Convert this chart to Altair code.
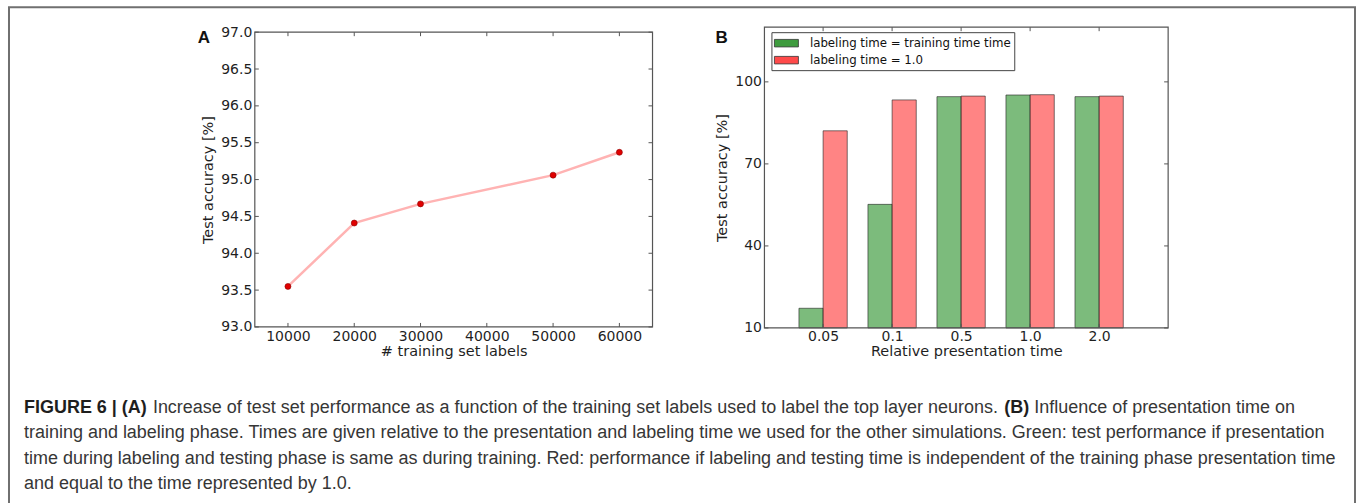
import json
import altair as alt
import pandas as pd

# ---------------- data ----------------
# Panel A
train_labels = [10000, 20000, 30000, 50000, 60000]
test_acc = [93.55, 94.41, 94.67, 95.06, 95.37]
a_x_ticks = [10000, 20000, 30000, 40000, 50000, 60000]
a_y_ticks = [93.0, 93.5, 94.0, 94.5, 95.0, 95.5, 96.0, 96.5, 97.0]

# Panel B
pres_times = ["0.05", "0.1", "0.5", "1.0", "2.0"]
acc_same = [17.2, 55.2, 94.6, 95.2, 94.6]
acc_fixed = [82.1, 93.4, 94.8, 95.3, 94.8]
series_names = ["labeling time = training time time", "labeling time = 1.0"]
b_y_ticks = [10, 40, 70, 100]

# Caption
caption_lines = [
    [("FIGURE 6 | (A)", True),
     ("Increase of test set performance as a function of the training set labels used to label the top layer neurons.", False),
     ("(B)", True),
     ("Influence of presentation time on", False)],
    [("training and labeling phase. Times are given relative to the presentation and labeling time we used for the other simulations. Green: test performance if presentation", False)],
    [("time during labeling and testing phase is same as during training. Red: performance if labeling and testing time is independent of the training phase presentation time", False)],
    [("and equal to the time represented by 1.0.", False)],
]

# ---------------- layout / style ----------------
WA, WB, H = 398, 404, 301
A_TOP, A_BOT = 5, 300
BAR_W = 0.35
TICK = 4
FRAME_C = "#555555"
LBL_FONT = "DejaVu Sans"
ROW_GAP = 20
A_LEFT = 254
CAP_TOP = 26 + H + ROW_GAP
CAP_FONT = "Liberation Sans"
CAP_SIZE = 18


def make_axis(values, title, fmt=None, label_expr=None, label_pad=3, title_pad=5):
    kw = dict(values=values, title=title, ticks=False, domain=False, grid=False,
              labelFont=LBL_FONT, labelFontSize=14, labelColor="#1f1f1f",
              labelPadding=label_pad, titleFont=LBL_FONT, titleFontSize=14.5,
              titleFontWeight="normal", titleColor="#1f1f1f", titlePadding=title_pad)
    if fmt:
        kw["format"] = fmt
    if label_expr:
        kw["labelExpr"] = label_expr
    return alt.Axis(**kw)


# ---------------- panel A ----------------
dfA = pd.DataFrame({"labels": train_labels, "acc": test_acc})
xA = alt.Scale(domain=[5000, 65000], nice=False, zero=False)
yA = alt.Scale(domain=[93, 97], range=[A_BOT, A_TOP], nice=False, zero=False)
axA_x = make_axis(a_x_ticks, "# training set labels", fmt="d", label_pad=2, title_pad=1)
axA_y = make_axis(a_y_ticks, "Test accuracy [%]", fmt=".1f", label_pad=3, title_pad=5)

XA = lambda f: alt.X(f, scale=xA, axis=axA_x)
YA = lambda f: alt.Y(f, scale=yA, axis=axA_y)

lineA = alt.Chart(dfA).mark_line(color="#ffb3b3", strokeWidth=2.5).encode(
    x=XA("labels:Q"), y=YA("acc:Q"))
ptsA = alt.Chart(dfA).mark_point(filled=True, size=36, color="#e00000",
                                 stroke="#8a0000", strokeWidth=0.6, opacity=1).encode(
    x=XA("labels:Q"), y=YA("acc:Q"))
dAy = pd.DataFrame({"v": a_y_ticks})
dAx = pd.DataFrame({"v": a_x_ticks})
tickA_l = alt.Chart(dAy).mark_rule(color=FRAME_C).encode(
    y=YA("v:Q"), x=alt.value(0), x2=alt.value(TICK))
tickA_r = alt.Chart(dAy).mark_rule(color=FRAME_C).encode(
    y=YA("v:Q"), x=alt.value(WA - TICK), x2=alt.value(WA))
tickA_b = alt.Chart(dAx).mark_rule(color=FRAME_C).encode(
    x=XA("v:Q"), y=alt.value(A_BOT - TICK), y2=alt.value(A_BOT))
tickA_t = alt.Chart(dAx).mark_rule(color=FRAME_C).encode(
    x=XA("v:Q"), y=alt.value(A_TOP), y2=alt.value(A_TOP + TICK))
frameA = alt.Chart(pd.DataFrame({"k": [0]})).mark_rect(
    fill="transparent", stroke=FRAME_C, strokeWidth=1.2).encode(
    x=alt.value(0), x2=alt.value(WA), y=alt.value(A_TOP), y2=alt.value(A_BOT))
labA = alt.Chart(pd.DataFrame({"t": ["A"]})).mark_text(
    align="left", baseline="alphabetic", font="Liberation Sans", fontSize=17,
    fontWeight="bold", color="#111111").encode(
    x=alt.value(197 - A_LEFT), y=alt.value(16), text="t:N")

panelA = alt.layer(lineA, ptsA, tickA_l, tickA_r, tickA_b, tickA_t, frameA, labA).properties(
    width=WA, height=H)

# ---------------- panel B ----------------
rows = []
for i, t in enumerate(pres_times):
    for k, (name, vals) in enumerate(zip(series_names, [acc_same, acc_fixed])):
        rows.append({"time": t, "series": name, "x0": i + k * BAR_W,
                     "x1": i + (k + 1) * BAR_W, "acc": vals[i]})
dfB = pd.DataFrame(rows)
b_x_pos = [i + BAR_W for i in range(len(pres_times))]

xB = alt.Scale(domain=[-0.5, len(pres_times) + BAR_W], nice=False, zero=False)
yB = alt.Scale(domain=[10, 120], nice=False, zero=False)
axB_x = make_axis(b_x_pos, "Relative presentation time",
                  label_expr=f"{json.dumps(pres_times)}[round(datum.value - {BAR_W})]",
                  label_pad=2, title_pad=1)
axB_y = make_axis(b_y_ticks, "Test accuracy [%]", fmt="d", label_pad=3, title_pad=5)

XB = lambda f: alt.X(f, scale=xB, axis=axB_x)
YB = lambda f: alt.Y(f, scale=yB, axis=axB_y)

barsB = alt.Chart(dfB).mark_bar(fillOpacity=0.68, stroke="#222222", strokeOpacity=0.6,
                                strokeWidth=1).encode(
    x=XB("x0:Q"),
    x2="x1:Q",
    y=YB("acc:Q"),
    y2=alt.datum(10),
    color=alt.Color("series:N",
                    scale=alt.Scale(domain=series_names, range=["#3e9b3e", "#ff4a4a"]),
                    legend=alt.Legend(title=None, orient="none", legendX=7, legendY=5,
                                      padding=3, fillColor="white", strokeColor="#444444",
                                      cornerRadius=0,
                                      symbolType="M-1.6,-0.5H1.6V0.5H-1.6Z",
                                      symbolSize=225, symbolOffset=4, labelOffset=15.5,
                                      rowPadding=2, labelFont=LBL_FONT, labelFontSize=11.8,
                                      labelColor="#111111", labelLimit=400, symbolOpacity=1,
                                      symbolStrokeColor="#333333", symbolStrokeWidth=0.8)),
)
dBy = pd.DataFrame({"v": b_y_ticks})
dBx = pd.DataFrame({"v": b_x_pos})
tickB_l = alt.Chart(dBy).mark_rule(color=FRAME_C).encode(
    y=YB("v:Q"), x=alt.value(0), x2=alt.value(TICK))
tickB_r = alt.Chart(dBy).mark_rule(color=FRAME_C).encode(
    y=YB("v:Q"), x=alt.value(WB - TICK), x2=alt.value(WB))
tickB_b = alt.Chart(dBx).mark_rule(color=FRAME_C).encode(
    x=XB("v:Q"), y=alt.value(H - TICK), y2=alt.value(H))
tickB_t = alt.Chart(dBx).mark_rule(color=FRAME_C).encode(
    x=XB("v:Q"), y=alt.value(0), y2=alt.value(TICK))
frameB = alt.Chart(pd.DataFrame({"k": [0]})).mark_rect(
    fill="transparent", stroke=FRAME_C, strokeWidth=1.2).encode(
    x=alt.value(0), x2=alt.value(WB), y=alt.value(0), y2=alt.value(H))
labB = alt.Chart(pd.DataFrame({"t": ["B"]})).mark_text(
    align="left", baseline="alphabetic", font="Liberation Sans", fontSize=17,
    fontWeight="bold", color="#111111").encode(
    x=alt.value(715 - 764), y=alt.value(16), text="t:N")

panelB = alt.layer(barsB, tickB_l, tickB_r, tickB_b, tickB_t, frameB, labB).properties(
    width=WB, height=H)

# ---------------- caption ----------------
seg_x = [[23, 152, 1004, 1034], [23], [23], [23]]
line_base = [412, 437.5, 463, 488]
cap_rows = []
for li, segs in enumerate(caption_lines):
    for si, (txt, bold) in enumerate(segs):
        cap_rows.append({"t": txt, "x": seg_x[li][si] - A_LEFT,
                         "y": line_base[li] - CAP_TOP, "bold": bold})
dfC = pd.DataFrame(cap_rows)

capReg = alt.Chart(dfC).transform_filter("!datum.bold").mark_text(
    align="left", baseline="alphabetic", font=CAP_FONT, fontSize=CAP_SIZE,
    color="#363636").encode(
    x=alt.X("x:Q", scale=None), y=alt.Y("y:Q", scale=None), text="t:N")
capBold = alt.Chart(dfC).transform_filter("datum.bold").mark_text(
    align="left", baseline="alphabetic", font=CAP_FONT, fontSize=CAP_SIZE,
    fontWeight="bold", color="#1e1e1e").encode(
    x=alt.X("x:Q", scale=None), y=alt.Y("y:Q", scale=None), text="t:N")
frameAll = alt.Chart(pd.DataFrame({"k": [0]})).mark_rect(
    fill="transparent", stroke="#707070", strokeWidth=2).encode(
    x=alt.value(8 - A_LEFT), x2=alt.value(1355 - A_LEFT),
    y=alt.value(6 - CAP_TOP), y2=alt.value(530 - CAP_TOP))

caption = alt.layer(frameAll, capReg, capBold).properties(width=WA, height=130)

chart = alt.concat(panelA, panelB, caption, columns=2,
                   spacing={"row": ROW_GAP, "column": 764 - 652},
                   bounds="flush", align="each").resolve_legend(
    color="independent").properties(
    padding={"left": 7, "top": 5, "right": 0, "bottom": 0},
    background="white",
).configure_view(stroke="transparent")

chart.save("out.html", embed_options={"renderer": "svg", "actions": False})
